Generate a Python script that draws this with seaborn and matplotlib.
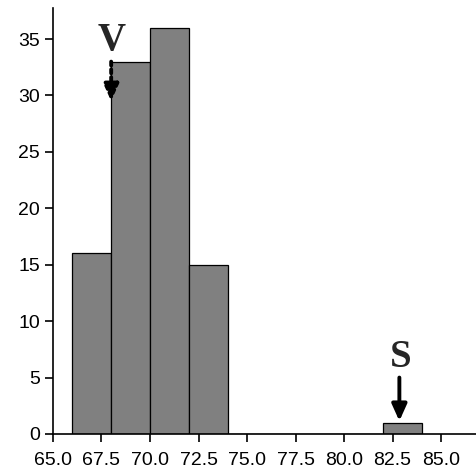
import numpy as np
import matplotlib
matplotlib.use("Agg")
import matplotlib.pyplot as plt
import seaborn as sns

# histogram bins (left edges, width 2) and counts
bin_centers = [67, 69, 71, 73, 75, 77, 79, 81, 83]
counts = [16, 33, 36, 15, 0, 0, 0, 0, 1]
bin_edges = [66, 68, 70, 72, 74, 76, 78, 80, 82, 84]
x_ticks = [65.0, 67.5, 70.0, 72.5, 75.0, 77.5, 80.0, 82.5, 85.0]
y_ticks = [0, 5, 10, 15, 20, 25, 30, 35]

sns.set_style("ticks")
plt.rcParams["font.family"] = ["Liberation Sans", "DejaVu Sans"]

fig = plt.figure(figsize=(4.77, 4.73), dpi=100)
ax = fig.add_axes([0.111, 0.0825, 0.889, 0.9005])

sns.histplot(x=bin_centers, weights=counts, bins=bin_edges, ax=ax,
             color="#808080", alpha=1, edgecolor="black", linewidth=0.9)

ax.set_xlim(65, 86.85)
ax.set_ylim(0, 37.75)
ax.set_xticks(x_ticks)
ax.set_xticklabels([f"{t:.1f}" for t in x_ticks])
ax.set_yticks(y_ticks)
ax.set_xlabel("")
ax.set_ylabel("")
ax.tick_params(axis="both", labelsize=14, direction="out", length=6,
               width=1.2, colors="black")
ax.tick_params(axis="x", pad=7)
for s in ["left", "bottom"]:
    ax.spines[s].set_linewidth(1.2)
    ax.spines[s].set_color("black")
sns.despine(ax=ax)

# V marker with dotted arrow
ax.text(68.0, 34.9, "V", fontsize=28, fontweight="bold",
        family=["Liberation Serif", "DejaVu Serif"], ha="center", va="center")
ax.annotate("", xy=(68.0, 29.5), xytext=(68.0, 33.0),
            arrowprops=dict(arrowstyle="-|>,head_length=1.0,head_width=0.45",
                            color="black", lw=2.8, linestyle=(0, (1, 1)),
                            shrinkA=0, shrinkB=0))

# S marker with solid arrow
ax.text(82.9, 6.8, "S", fontsize=28, fontweight="bold",
        family=["Liberation Serif", "DejaVu Serif"], ha="center", va="center")
ax.annotate("", xy=(82.85, 1.15), xytext=(82.85, 5.0),
            arrowprops=dict(arrowstyle="-|>,head_length=1.0,head_width=0.45",
                            color="black", lw=2.8, shrinkA=0, shrinkB=0))

fig.savefig("out.png", dpi=100)
